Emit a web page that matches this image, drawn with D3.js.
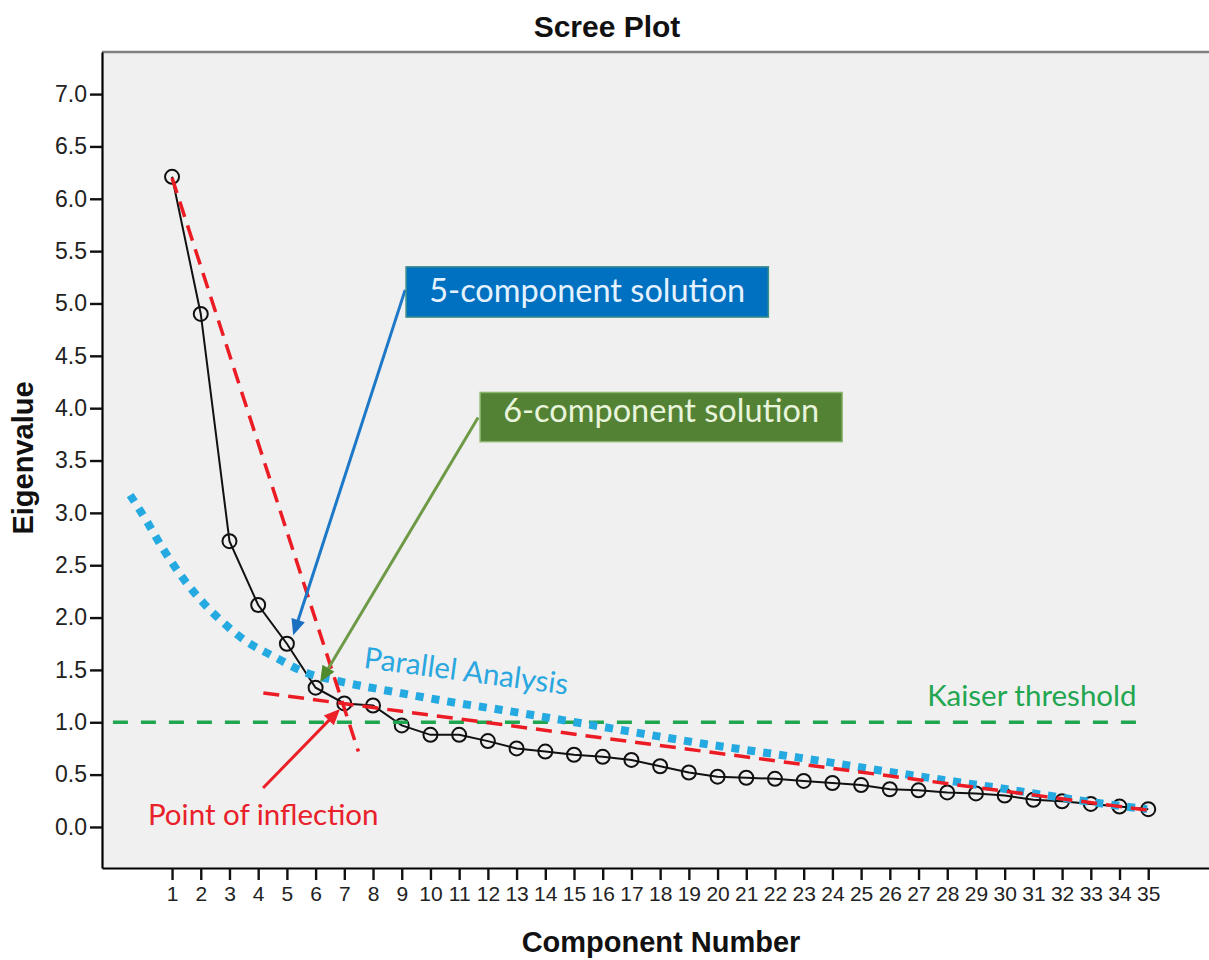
<!DOCTYPE html>
<html>
<head>
<meta charset="utf-8">
<script src="https://cdn.jsdelivr.net/npm/d3@7"></script>
<style>
  html, body { margin: 0; padding: 0; background: #ffffff; }
  svg { display: block; }
</style>
</head>
<body>
<svg id="chart" width="1209" height="960"></svg>
<script>
// ---------------- DATA ----------------
const components = d3.range(1, 36); // 1..35
const eigenvalues = [6.21, 4.90, 2.73, 2.12, 1.75, 1.33, 1.18, 1.16, 0.97, 0.88,
                     0.88, 0.82, 0.75, 0.72, 0.69, 0.67, 0.64, 0.58, 0.52, 0.48,
                     0.47, 0.46, 0.44, 0.42, 0.40, 0.36, 0.35, 0.33, 0.32, 0.30,
                     0.26, 0.245, 0.22, 0.195, 0.17];
// parallel analysis curve (component position, eigenvalue)
const parallelX = [-0.46, 0.12, 0.70, 1.34, 2.09, 2.79, 3.60, 4.53, 5.69, 6.85,
                   8.94, 10.57, 12.43, 15.91, 19.4, 22.88, 26.37, 29.85, 33.33, 34.96];
const parallelY = [3.17, 2.92, 2.65, 2.39, 2.14, 1.95, 1.77, 1.63, 1.47, 1.39,
                   1.28, 1.20, 1.12, 0.96, 0.80, 0.66, 0.51, 0.37, 0.226, 0.17];
const kaiserValue = 1.0;
const kaiserRange = [-1.06, 34.66];
// red tangent lines [[x0,y0],[x1,y1]]
const steepLine = [[1, 6.2], [7.49, 0.72]];
const shallowLine = [[4.18, 1.28], [35, 0.16]];
const yTicks = [0.0, 0.5, 1.0, 1.5, 2.0, 2.5, 3.0, 3.5, 4.0, 4.5, 5.0, 5.5, 6.0, 6.5, 7.0];
const xTicks = components;
const title = "Scree Plot";
const xTitle = "Component Number";
const yTitle = "Eigenvalue";
// annotation arrows: [tail, head] in data units
const arrow5 = [[9.12, 5.13], [5.22, 1.83]];
const arrow6 = [[11.66, 3.91], [6.16, 1.385]];
const arrowInflection = [[4.17, 0.372], [6.85, 1.127]];
// annotation boxes: x0, x1, yTop, yBottom (data units)
const box5 = {label: "5-component solution", x: [9.15, 21.77], y: [5.35, 4.87]};
const box6 = {label: "6-component solution", x: [11.73, 24.34], y: [4.15, 3.68]};
const kaiserLabel = {text: "Kaiser threshold", x: 27.3, y: 1.156};
const inflectionLabel = {text: "Point of inflection", x: 0.16, y: 0.02};
const parallelLabel = {text: "Parallel Analysis", x: 7.65, y: 1.52};

// ---------------- LAYOUT ----------------
const svg = d3.select("#chart");
const plotLeft = 102, plotRight = 1220, plotTop = 52, plotBottom = 868;
const x = d3.scaleLinear().domain([-1.44, 37.5]).range([plotLeft, plotRight]);
const y = d3.scaleLinear().domain([-0.392, 7.402]).range([plotBottom, plotTop]);

const axisFont = "'Liberation Sans', Arial, sans-serif";
const noteFont = "Lato, 'Open Sans', sans-serif";

// background
svg.append("rect")
  .attr("x", plotLeft).attr("y", plotTop)
  .attr("width", plotRight - plotLeft).attr("height", plotBottom - plotTop)
  .attr("fill", "#f0f0f0");
svg.append("line")
  .attr("x1", plotLeft).attr("x2", plotRight)
  .attr("y1", plotTop).attr("y2", plotTop)
  .attr("stroke", "#808080").attr("stroke-width", 2.5);

// axes
const yAxis = svg.append("g")
  .attr("transform", `translate(${plotLeft},0)`)
  .call(d3.axisLeft(y).tickValues(yTicks).tickFormat(d3.format(".1f"))
        .tickSize(12).tickSizeOuter(0).tickPadding(3));
const xAxis = svg.append("g")
  .attr("transform", `translate(0,${plotBottom})`)
  .call(d3.axisBottom(x).tickValues(xTicks).tickFormat(d3.format("d"))
        .tickSize(12).tickSizeOuter(0).tickPadding(6));
[yAxis, xAxis].forEach(g => {
  g.attr("font-family", axisFont);
  g.select(".domain").attr("stroke", "#000").attr("stroke-width", 2.2);
  g.selectAll(".tick line").attr("stroke", "#111").attr("stroke-width", 2.4);
  g.selectAll(".tick text").attr("fill", "#222");
});
xAxis.attr("font-size", 21);
yAxis.attr("font-size", 23);

// titles
svg.append("text").text(title)
  .attr("x", 607).attr("y", 37).attr("text-anchor", "middle")
  .style("font-family", axisFont).style("font-weight", "bold").style("font-size", "30px")
  .attr("fill", "#111");
svg.append("text").text(xTitle)
  .attr("x", 661).attr("y", 952).attr("text-anchor", "middle")
  .style("font-family", axisFont).style("font-weight", "bold").style("font-size", "29px")
  .attr("fill", "#111");
svg.append("text").text(yTitle)
  .attr("transform", "translate(33,458) rotate(-90)").attr("text-anchor", "middle")
  .style("font-family", axisFont).style("font-weight", "bold").style("font-size", "29px")
  .attr("fill", "#111");

// eigenvalue series
const pts = components.map((c, i) => [c, eigenvalues[i]]);
svg.append("path")
  .attr("d", d3.line().x(d => x(d[0])).y(d => y(d[1]))(pts))
  .attr("fill", "none").attr("stroke", "#111").attr("stroke-width", 2);
svg.append("g").selectAll("circle").data(pts).join("circle")
  .attr("cx", d => x(d[0])).attr("cy", d => y(d[1])).attr("r", 7)
  .attr("fill", "none").attr("stroke", "#111").attr("stroke-width", 2);

// Kaiser threshold
svg.append("line")
  .attr("x1", x(kaiserRange[0])).attr("x2", x(kaiserRange[1]))
  .attr("y1", y(kaiserValue)).attr("y2", y(kaiserValue))
  .attr("stroke", "#1fa64f").attr("stroke-width", 3.5)
  .attr("stroke-dasharray", "15,13");

// Parallel analysis
const paPts = parallelX.map((v, i) => [v, parallelY[i]]);
svg.append("path")
  .attr("d", d3.line().curve(d3.curveMonotoneX).x(d => x(d[0])).y(d => y(d[1]))(paPts))
  .attr("fill", "none").attr("stroke", "#25a9e1").attr("stroke-width", 8)
  .attr("stroke-dasharray", "8,8");

// red tangent lines
[steepLine, shallowLine].forEach(l => {
  svg.append("line")
    .attr("x1", x(l[0][0])).attr("y1", y(l[0][1]))
    .attr("x2", x(l[1][0])).attr("y2", y(l[1][1]))
    .attr("stroke", "#ec1c24").attr("stroke-width", 3.5)
    .attr("stroke-dasharray", "16,9");
});

// arrows
function drawArrow(a, lineColor, headColor) {
  const x0 = x(a[0][0]), y0 = y(a[0][1]), x1 = x(a[1][0]), y1 = y(a[1][1]);
  const dx = x1 - x0, dy = y1 - y0, len = Math.hypot(dx, dy);
  const ux = dx / len, uy = dy / len, px = -uy, py = ux;
  const L = 16, W = 7;
  svg.append("line")
    .attr("x1", x0).attr("y1", y0)
    .attr("x2", x1 - ux * L * 0.8).attr("y2", y1 - uy * L * 0.8)
    .attr("stroke", lineColor).attr("stroke-width", 3);
  const bx = x1 - ux * L, by = y1 - uy * L;
  svg.append("path")
    .attr("d", `M${x1},${y1}L${bx + px * W},${by + py * W}L${bx - px * W},${by - py * W}Z`)
    .attr("fill", headColor);
}
drawArrow(arrow5, "#1e78c8", "#1a6fc0");
drawArrow(arrow6, "#6e9a48", "#4f8a2c");
drawArrow(arrowInflection, "#ec2027", "#ec2027");

// boxes
function drawBox(b, fill, stroke, textColor, dy) {
  const bx0 = x(b.x[0]), bx1 = x(b.x[1]), by0 = y(b.y[0]), by1 = y(b.y[1]);
  svg.append("rect")
    .attr("x", bx0).attr("y", by0).attr("width", bx1 - bx0).attr("height", by1 - by0)
    .attr("fill", fill).attr("stroke", stroke).attr("stroke-width", 1.5);
  svg.append("text").text(b.label)
    .attr("x", (bx0 + bx1) / 2).attr("y", (by0 + by1) / 2 + dy)
    .attr("text-anchor", "middle")
    .style("font-family", noteFont).style("font-size", "32.5px")
    .attr("fill", textColor);
}
drawBox(box5, "#0070c0", "#3f8f8a", "#e4f2ff", 10);
drawBox(box6, "#548235", "#8bb56c", "#e8f4dc", 5);

// labels
svg.append("text").text(kaiserLabel.text)
  .attr("x", x(kaiserLabel.x)).attr("y", y(kaiserLabel.y))
  .style("font-family", noteFont).style("font-size", "29.5px").attr("fill", "#22a650");
svg.append("text").text(inflectionLabel.text)
  .attr("x", x(inflectionLabel.x)).attr("y", y(inflectionLabel.y))
  .style("font-family", noteFont).style("font-size", "29.5px").attr("fill", "#e8212a");
svg.append("text").text(parallelLabel.text)
  .attr("transform", `translate(${x(parallelLabel.x)},${y(parallelLabel.y)}) rotate(7.5)`)
  .style("font-family", noteFont).style("font-size", "29.5px").attr("fill", "#2aa7df");
</script>
</body>
</html>
